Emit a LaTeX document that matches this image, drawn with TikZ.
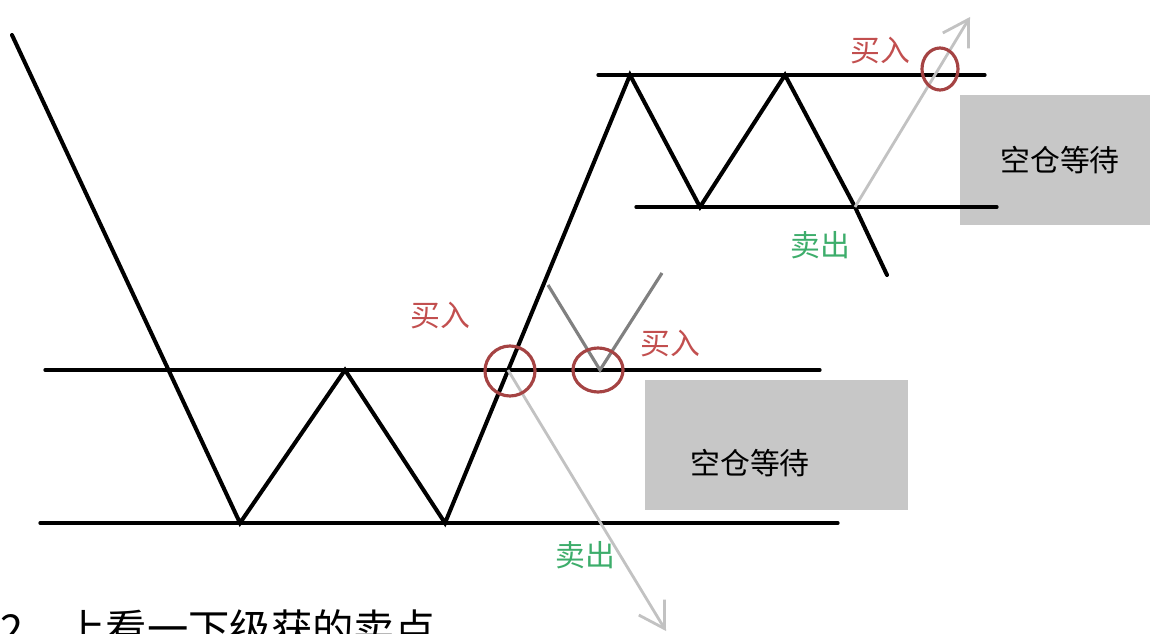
\documentclass[tikz,border=0pt]{standalone}
\usepackage{fontspec}
\newfontfamily\cjk{Noto Sans CJK SC}
\usetikzlibrary{arrows.meta,calc}
\usepackage{tkz-euclide}
\definecolor{BuyClr}{rgb}{0.76,0.31,0.31}
\definecolor{SellClr}{rgb}{0.24,0.68,0.42}
\definecolor{BoxClr}{rgb}{0.78,0.78,0.78}
\definecolor{TrailClr}{rgb}{0.76,0.76,0.76}
\definecolor{VeeClr}{rgb}{0.5,0.5,0.5}
\tikzset{buylbl/.style={text=BuyClr,inner sep=0pt,font=\cjk\fontsize{17}{17}\selectfont},
  selllbl/.style={text=SellClr,inner sep=0pt,font=\cjk\fontsize{17}{17}\selectfont},
  waitbox/.style={fill=BoxClr,draw=none},
  waitlbl/.style={inner sep=0pt,font=\cjk\fontsize{17}{17}\selectfont},
  ring/.style={draw=BuyClr!85!black,line width=1.8pt}}

\begin{document}
\begin{tikzpicture}
\useasboundingbox (0,0) rectangle (23,12.66);
\clip (0,0) rectangle (23,12.66);
\tkzSetUpLine[line width=2.3pt,color=black]

% price path
\tkzDefPoints{0.24/11.96/A,4.8/2.2/B,6.9/5.26/C,8.9/2.2/D,12.6/11.16/E,14.0/8.52/F,15.7/11.16/G,17.1/8.52/H,17.74/7.16/I}
% range lines
\tkzDefPoints{0.9/5.26/La,16.4/5.26/Lb,0.8/2.2/Ma,16.76/2.2/Mb}
\tkzDefPoints{11.96/11.16/Ua,19.7/11.16/Ub,12.72/8.52/Wa,19.94/8.52/Wb}
% breakouts
\tkzDefPoints{10.16/5.26/K,13.32/0.04/S,10.96/6.96/V1,12.0/5.26/V2,13.24/7.2/V3,19.4/12.32/T}

% gray boxes
\fill[waitbox] (12.9,2.46) rectangle (18.16,5.06);
\fill[waitbox] (19.2,8.16) rectangle (23,10.76);

\tkzDrawSegments[line width=1.9pt,color=black](La,Lb Ma,Mb Ua,Ub Wa,Wb)
\tkzDrawPolySeg(A,B,C,D,E,F,G,H,I)

\draw[line width=1.6pt,color=TrailClr,-{Straight Barb[length=5mm,width=6mm]}] (K) -- (S);
\draw[line width=1.6pt,color=TrailClr,-{Straight Barb[length=5mm,width=6mm]}] (H) -- (T);
\draw[line width=1.8pt,color=VeeClr] (V1) -- (V2) -- (V3);

% circles
\draw[ring] (10.2,5.24) ellipse (0.5 and 0.5);
\draw[ring] (11.96,5.26) ellipse (0.5 and 0.44);
\draw[ring] (18.8,11.28) ellipse (0.36 and 0.42);

% labels
\node[buylbl] (buyA) at (8.8,6.36) {买入};
\node[buylbl] (buyB) at (13.4,5.8) {买入};
\node[buylbl] (buyC) at (17.6,11.66) {买入};
\node[selllbl] (sellA) at (16.4,7.76) {卖出};
\node[selllbl] (sellB) at (11.7,1.56) {卖出};
\node[waitlbl] (waitA) at (15.0,3.4) {空仓等待};
\node[waitlbl] (waitB) at (21.2,9.46) {空仓等待};

\node[anchor=base west,inner sep=0pt,font=\cjk\fontsize{23.5}{23.5}\selectfont] (note) at (0,-0.22) {2、上看一下级获的卖点};
\end{tikzpicture}
\end{document}
